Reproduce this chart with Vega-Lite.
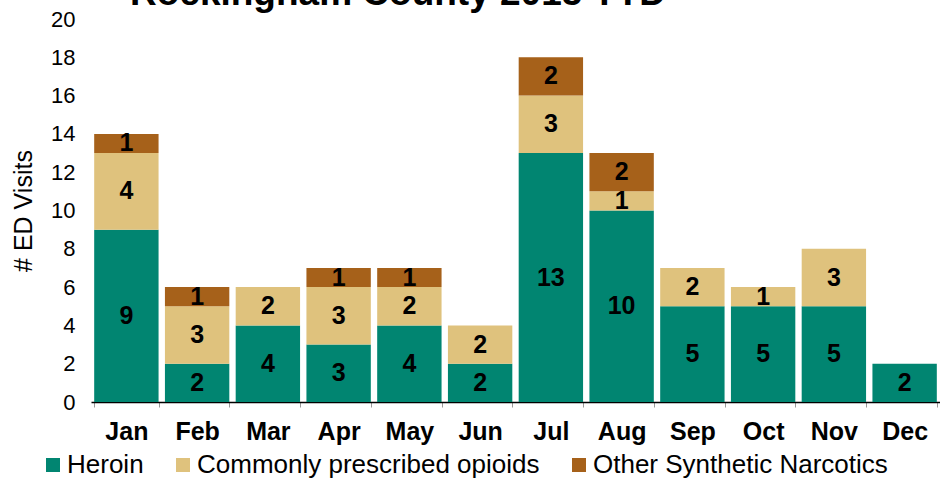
{
  "$schema": "https://vega.github.io/schema/vega-lite/v6.json",
  "autosize": {"type": "none"},
  "padding": {"left": 91, "top": 19, "right": 0, "bottom": 77},
  "width": 849,
  "height": 383,
  "background": "white",
  "config": {
    "font": "Liberation Sans",
    "view": {"stroke": null}
  },
  "title": {
    "text": "Rockingham County 2015 YTD",
    "anchor": "start",
    "frame": "group",
    "orient": "top",
    "dx": 39,
    "dy": 42,
    "fontSize": 37,
    "fontWeight": "bold",
    "color": "#000000",
    "baseline": "bottom",
    "offset": 0
  },
  "data": {
    "values": [
      {"month": "Jan", "type": "Heroin", "k": 1, "v": 9},
      {"month": "Jan", "type": "Commonly prescribed opioids", "k": 2, "v": 4},
      {"month": "Jan", "type": "Other Synthetic Narcotics", "k": 3, "v": 1},
      {"month": "Feb", "type": "Heroin", "k": 1, "v": 2},
      {"month": "Feb", "type": "Commonly prescribed opioids", "k": 2, "v": 3},
      {"month": "Feb", "type": "Other Synthetic Narcotics", "k": 3, "v": 1},
      {"month": "Mar", "type": "Heroin", "k": 1, "v": 4},
      {"month": "Mar", "type": "Commonly prescribed opioids", "k": 2, "v": 2},
      {"month": "Apr", "type": "Heroin", "k": 1, "v": 3},
      {"month": "Apr", "type": "Commonly prescribed opioids", "k": 2, "v": 3},
      {"month": "Apr", "type": "Other Synthetic Narcotics", "k": 3, "v": 1},
      {"month": "May", "type": "Heroin", "k": 1, "v": 4},
      {"month": "May", "type": "Commonly prescribed opioids", "k": 2, "v": 2},
      {"month": "May", "type": "Other Synthetic Narcotics", "k": 3, "v": 1},
      {"month": "Jun", "type": "Heroin", "k": 1, "v": 2},
      {"month": "Jun", "type": "Commonly prescribed opioids", "k": 2, "v": 2},
      {"month": "Jul", "type": "Heroin", "k": 1, "v": 13},
      {"month": "Jul", "type": "Commonly prescribed opioids", "k": 2, "v": 3},
      {"month": "Jul", "type": "Other Synthetic Narcotics", "k": 3, "v": 2},
      {"month": "Aug", "type": "Heroin", "k": 1, "v": 10},
      {"month": "Aug", "type": "Commonly prescribed opioids", "k": 2, "v": 1},
      {"month": "Aug", "type": "Other Synthetic Narcotics", "k": 3, "v": 2},
      {"month": "Sep", "type": "Heroin", "k": 1, "v": 5},
      {"month": "Sep", "type": "Commonly prescribed opioids", "k": 2, "v": 2},
      {"month": "Oct", "type": "Heroin", "k": 1, "v": 5},
      {"month": "Oct", "type": "Commonly prescribed opioids", "k": 2, "v": 1},
      {"month": "Nov", "type": "Heroin", "k": 1, "v": 5},
      {"month": "Nov", "type": "Commonly prescribed opioids", "k": 2, "v": 3},
      {"month": "Dec", "type": "Heroin", "k": 1, "v": 2}
    ]
  },
  "encoding": {
    "x": {
      "field": "month",
      "type": "nominal",
      "sort": ["Jan","Feb","Mar","Apr","May","Jun","Jul","Aug","Sep","Oct","Nov","Dec"],
      "scale": {"paddingInner": 0.09, "paddingOuter": 0.045},
      "axis": {
        "title": null,
        "labelAngle": 0,
        "labelFontSize": 25,
        "labelFontWeight": "bold",
        "labelColor": "#000000",
        "labelPadding": 12,
        "domainColor": "#000000",
        "domainWidth": 1.5,
        "tickBand": "extent",
        "tickColor": "#999999",
        "tickSize": 5
      }
    },
    "y": {
      "field": "v",
      "type": "quantitative",
      "stack": "zero",
      "scale": {"domain": [0, 20]},
      "axis": {
        "title": "# ED Visits",
        "titleFontSize": 25,
        "titleFontWeight": "normal",
        "titleColor": "#000000",
        "titlePadding": 14,
        "values": [0,2,4,6,8,10,12,14,16,18,20],
        "labelFontSize": 22,
        "labelColor": "#000000",
        "labelPadding": 16,
        "ticks": false,
        "domain": false,
        "grid": false
      }
    },
    "order": {"field": "k", "type": "quantitative"}
  },
  "layer": [
    {
      "mark": {"type": "bar"},
      "encoding": {
        "color": {
          "field": "type",
          "type": "nominal",
          "scale": {
            "domain": ["Heroin", "Commonly prescribed opioids", "Other Synthetic Narcotics"],
            "range": ["#018571", "#dfc27d", "#a6611a"]
          },
          "legend": {
            "title": null,
            "orient": "none",
            "direction": "horizontal",
            "legendX": -51,
            "legendY": 433,
            "symbolType": "square",
            "symbolSize": 196,
            "symbolStrokeWidth": 0,
            "symbolOpacity": 1,
            "labelFontSize": 26,
            "labelColor": "#000000",
            "labelOffset": 1,
            "columnPadding": 26,
            "labelLimit": 500
          }
        }
      }
    },
    {
      "mark": {"type": "text", "fontSize": 25, "fontWeight": "bold", "color": "#000000", "baseline": "middle"},
      "encoding": {
        "y": {"field": "v", "type": "quantitative", "stack": "zero", "bandPosition": 0.5},
        "text": {"field": "v", "type": "quantitative"}
      }
    }
  ]
}
